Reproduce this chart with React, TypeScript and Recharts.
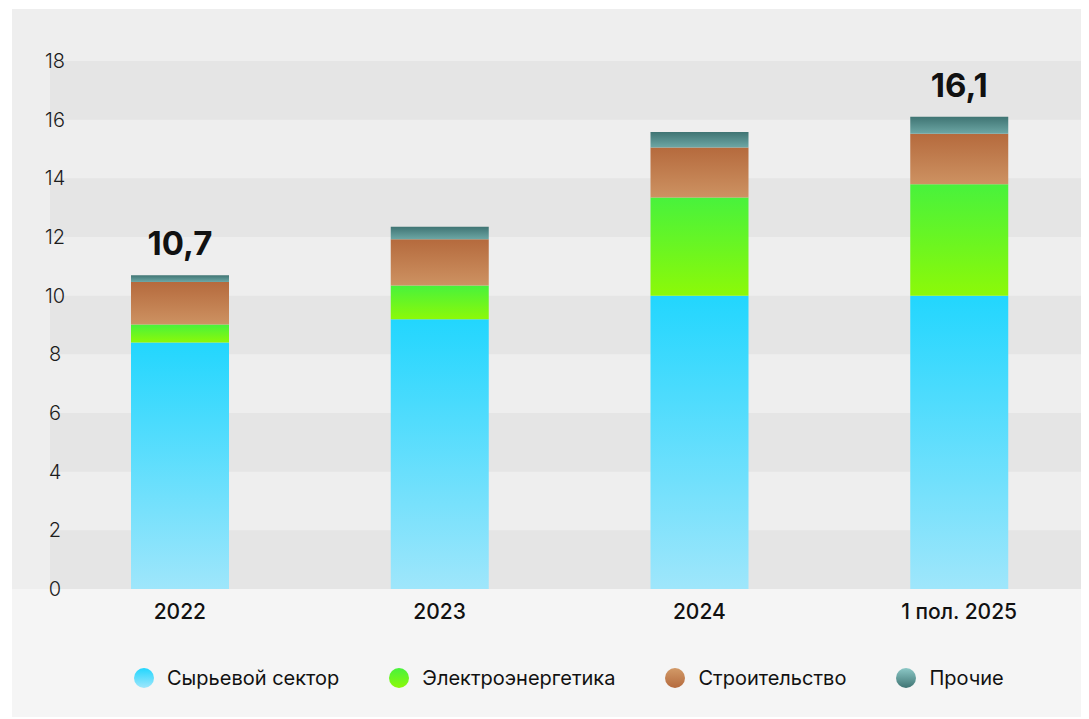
import { BarChart, Bar, XAxis, YAxis, ReferenceArea, LabelList } from "recharts";

const categories = ["2022", "2023", "2024", "1 пол. 2025"];
const rawSector = [8.4, 9.2, 10.0, 10.0];
const power = [0.62, 1.15, 3.35, 3.8];
const construction = [1.45, 1.57, 1.7, 1.72];
const other = [0.23, 0.43, 0.53, 0.58];
const totalLabels = ["10,7", "", "", "16,1"];
const yTicks = [0, 2, 4, 6, 8, 10, 12, 14, 16, 18];
const darkBands = [[0, 2], [4, 6], [8, 10], [12, 14], [16, 18]];

const series = [
  { key: "raw", name: "Сырьевой сектор", values: rawSector, top: "#22d6fe", bottom: "#9fe6fb", legend: ["#22d6fe", "#9fe6fb"] },
  { key: "power", name: "Электроэнергетика", values: power, top: "#48f23c", bottom: "#8cf908", legend: ["#48f23c", "#8cf908"] },
  { key: "build", name: "Строительство", values: construction, top: "#b56a3d", bottom: "#cd9262", legend: ["#d29a68", "#b56a3d"] },
  { key: "other", name: "Прочие", values: other, top: "#3f7473", bottom: "#6da7a5", legend: ["#8cc8c6", "#3f7473"] },
];

const data = categories.map((name, i) => {
  const row: Record<string, string | number> = { name, total: totalLabels[i] };
  series.forEach((s) => (row[s.key] = s.values[i]));
  return row;
});

const font = "Inter, 'Noto Sans', sans-serif";

function YTick(props: any) {
  return (
    <text x={43} y={props.y} dy={7} textAnchor="middle" fontSize={20} fontWeight={300} fill="#1c1c1c" fontFamily={font}>
      {props.payload.value}
    </text>
  );
}

function TotalLabel(props: any) {
  const { x, y, width, value } = props;
  if (!value) return null;
  return (
    <text x={x + width / 2} y={y - 20} textAnchor="middle" fontSize={33} fontWeight={700} fill="#111" fontFamily={font}>
      {value}
    </text>
  );
}

export default function App() {
  return (
    <div style={{ position: "relative", marginLeft: 4, marginTop: 1, width: 1077, height: 708, background: "#f5f5f5", fontFamily: font }}>
      <div style={{ position: "absolute", left: 0, top: 0, width: 1077, height: 580, background: "#eeeeee" }} />
      <div style={{ position: "absolute", left: 0, top: 0 }}>
        <BarChart width={1077} height={708} data={data} margin={{ top: 52, right: 0, bottom: 70, left: 0 }} barSize={98}>
          <defs>
            {series.map((s) => (
              <linearGradient key={s.key} id={"g-" + s.key} x1="0" y1="0" x2="0" y2="1">
                <stop offset="0%" stopColor={s.top} />
                <stop offset="100%" stopColor={s.bottom} />
              </linearGradient>
            ))}
          </defs>
          {darkBands.map(([a, b]) => (
            <ReferenceArea key={a} y1={a} y2={b} fill="#e5e5e5" fillOpacity={1} stroke="none" />
          ))}
          <XAxis
            dataKey="name"
            axisLine={false}
            tickLine={false}
            height={58}
            tickMargin={9}
            padding={{ left: 38, right: 0 }}
            tick={{ fontSize: 21, fontWeight: 500, fill: "#111", fontFamily: font }}
          />
          <YAxis domain={[0, 18]} ticks={yTicks} mirror axisLine={false} tickLine={false} tick={<YTick />} />
          {series.map((s, idx) => (
            <Bar key={s.key} dataKey={s.key} name={s.name} stackId="a" fill={`url(#g-${s.key})`} isAnimationActive={false}>
              {idx === series.length - 1 && <LabelList dataKey="total" content={<TotalLabel />} />}
            </Bar>
          ))}
        </BarChart>
      </div>
      <div style={{ position: "absolute", left: 122, top: 657, display: "flex", alignItems: "center", gap: 50 }}>
        {series.map((s) => (
          <div key={s.key} style={{ display: "flex", alignItems: "center" }}>
            <span
              style={{
                width: 20,
                height: 20,
                borderRadius: 10,
                marginRight: 13,
                background: `linear-gradient(${s.legend[0]}, ${s.legend[1]})`,
              }}
            />
            <span style={{ fontSize: 20, color: "#111" }}>{s.name}</span>
          </div>
        ))}
      </div>
    </div>
  );
}
